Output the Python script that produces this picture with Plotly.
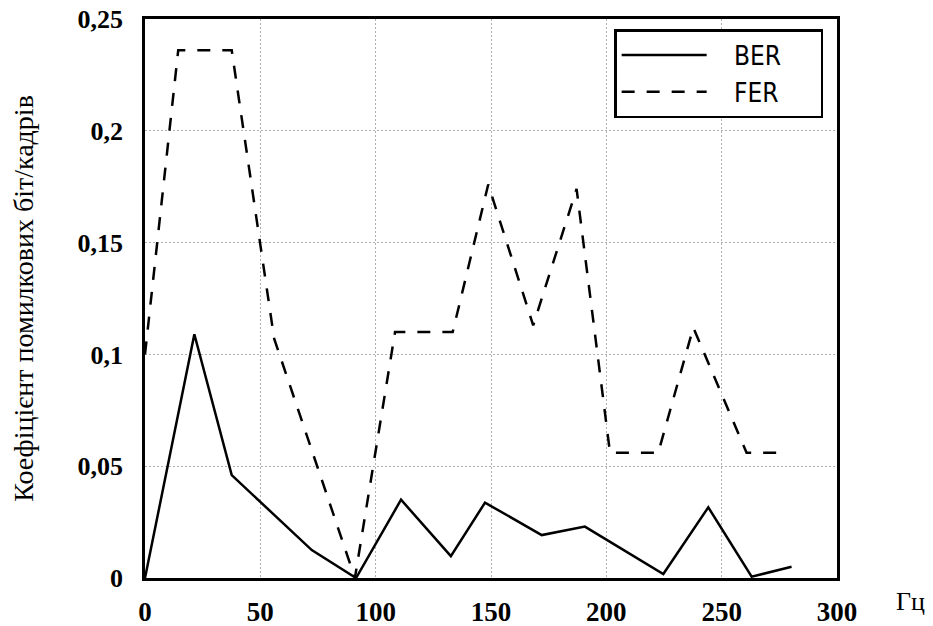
import plotly.graph_objects as go

# Data
ber_x = [0, 21.4, 37.6, 72.3, 91.5, 111, 132.6, 147.4, 172, 190.7, 224.7, 244.2, 263, 280.3]
ber_y = [0, 0.109, 0.046, 0.0125, 0, 0.035, 0.0098, 0.0337, 0.0192, 0.023, 0.0018, 0.0316, 0.0006, 0.005]

fer_x = [0, 14.4, 37.6, 56, 91, 108.4, 133.4, 148.8, 168.3, 187.1, 201.6, 222.5, 237.7, 260.8, 276.8]
fer_y = [0.1, 0.236, 0.236, 0.107, 0, 0.11, 0.11, 0.176, 0.113, 0.174, 0.056, 0.056, 0.112, 0.056, 0.056]

x_ticks = [0, 50, 100, 150, 200, 250, 300]
x_ticktext = ["0", "50", "100", "150", "200", "250", "300"]
y_ticks = [0, 0.05, 0.1, 0.15, 0.2, 0.25]
y_ticktext = ["0", "0,05", "0,1", "0,15", "0,2", "0,25"]

pad_l = "\u00a0\u00a0\u00a0"
pad_r = "\u00a0\u00a0\u00a0\u00a0\u2009"
series_names = [pad_l + "BER" + pad_r, pad_l + "FER" + pad_r]
y_title = "Коефіцієнт помилкових біт/кадрів"
x_unit = "Гц"

fig = go.Figure()
fig.add_trace(go.Scatter(x=ber_x, y=ber_y, mode="lines", name=series_names[0],
                         line=dict(color="black", width=2.5)))
fig.add_trace(go.Scatter(x=fer_x, y=fer_y, mode="lines", name=series_names[1],
                         line=dict(color="black", width=2.5, dash="13px,12px")))

serif = "Liberation Serif"

# page body has an 8px default margin, so the figure is sized to fill the rest
fig.update_layout(
    width=925, height=618,
    margin=dict(l=137, r=96, t=11, b=48),
    paper_bgcolor="white", plot_bgcolor="white",
    font=dict(family=serif, color="black"),
    showlegend=True,
    legend=dict(
        x=0.98, y=0.982, xanchor="right", yanchor="top",
        bordercolor="black", borderwidth=2.5, bgcolor="white",
        font=dict(family="DejaVu Sans Condensed", size=26, color="black"),
        itemwidth=85, tracegroupgap=0,
    ),
    xaxis=dict(
        range=[0, 300], tickvals=x_ticks, ticktext=x_ticktext,
        showgrid=True, gridcolor="#b0b0b0", griddash="2px,2px", gridwidth=1,
        showline=True, linecolor="black", linewidth=2.5, mirror=True,
        ticks="", zeroline=False, automargin=False, ticklabeloverflow="allow",
        tickfont=dict(family=serif, size=27, color="black", weight="bold"),
        ticklabelstandoff=8,
    ),
    yaxis=dict(
        range=[0, 0.25], tickvals=y_ticks, ticktext=y_ticktext,
        showgrid=True, gridcolor="#b0b0b0", griddash="2px,2px", gridwidth=1,
        showline=True, linecolor="black", linewidth=2.5, mirror=True,
        ticks="", zeroline=False, automargin=False, ticklabeloverflow="allow",
        tickfont=dict(family=serif, size=26, color="black", weight="bold"),
        ticklabelstandoff=14,
        title=dict(text=y_title, font=dict(family=serif, size=28, color="black"), standoff=40),
    ),
    annotations=[dict(
        text=x_unit, xref="paper", yref="paper", x=1.083, y=-0.012,
        xanchor="left", yanchor="top", showarrow=False,
        font=dict(family=serif, size=26, color="black"),
    )],
)

fig.write_html("out.html")
